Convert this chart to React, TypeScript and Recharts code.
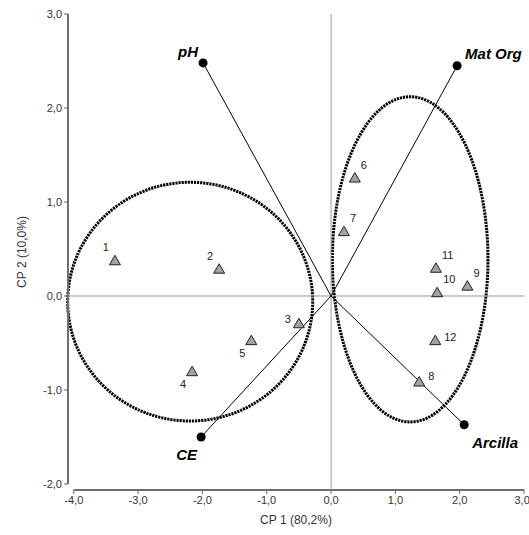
import React from "react";
import {
  ReferenceArea,
  ReferenceLine,
  Scatter,
  ScatterChart,
  XAxis,
  YAxis,
} from "recharts";

// sample scores (CP1, CP2)
const sampleIds = ["1", "2", "3", "4", "5", "6", "7", "8", "9", "10", "11", "12"];
const sampleCp1 = [-3.36, -1.74, -0.5, -2.16, -1.24, 0.37, 0.2, 1.37, 2.12, 1.65, 1.63, 1.62];
const sampleCp2 = [0.38, 0.29, -0.29, -0.8, -0.47, 1.26, 0.69, -0.91, 0.11, 0.04, 0.3, -0.47];

// variable loadings
const variableNames = ["pH", "Mat Org", "CE", "Arcilla"];
const variableCp1 = [-1.99, 1.96, -2.02, 2.07];
const variableCp2 = [2.48, 2.45, -1.5, -1.37];

// group ellipses (center and semi-axes, in CP units)
const groupCenterX = [-2.19, 1.23];
const groupCenterY = [-0.06, 0.39];
const groupRadiusX = [1.905, 1.21];
const groupRadiusY = [1.27, 1.73];

const xTicks = [-4, -3, -2, -1, 0, 1, 2, 3];
const yTicks = [-2, -1, 0, 1, 2, 3];
const xDomain: [number, number] = [-4.09, 3];
const yDomain: [number, number] = [-2.064, 3];

// where each label sits around its mark
const sampleLabelAt: Record<string, string> = {
  "1": "ul", "2": "ul", "3": "l", "4": "dl", "5": "dl", "6": "ur",
  "7": "ur", "8": "r", "9": "ur", "10": "ur", "11": "ur", "12": "r",
};
const variableLabelAt: Record<string, string> = {
  pH: "ul", "Mat Org": "ur", CE: "dl", Arcilla: "dr",
};

const samples = sampleIds.map((id, i) => ({ id, x: sampleCp1[i], y: sampleCp2[i] }));
const variables = variableNames.map((name, i) => ({ id: name, x: variableCp1[i], y: variableCp2[i] }));

const fmt = (v: number) => v.toFixed(1).replace(".", ",");
const font = "'Liberation Sans', Arial, sans-serif";

function SampleMark(props: any) {
  const { cx, cy, payload } = props;
  const at = sampleLabelAt[payload.id];
  let tx = cx + 6, ty = cy - 9, anchor = "start";
  if (at === "ul") { tx = cx - 6; ty = cy - 9; anchor = "end"; }
  if (at === "dl") { tx = cx - 6; ty = cy + 17; anchor = "end"; }
  if (at === "l") { tx = cx - 8; ty = cy; anchor = "end"; }
  if (at === "r") { tx = cx + 9; ty = cy + (payload.id === "8" ? -2 : 1); anchor = "start"; }
  return (
    <g>
      <polygon
        points={`${cx},${cy - 5} ${cx - 5.5},${cy + 4.5} ${cx + 5.5},${cy + 4.5}`}
        fill="#a3a3a3"
        stroke="#222"
        strokeWidth={1}
      />
      <text x={tx} y={ty} textAnchor={anchor} fontSize={11} fill="#222" fontFamily={font}>
        {payload.id}
      </text>
    </g>
  );
}

function VariableMark(props: any) {
  const { cx, cy, payload } = props;
  const at = variableLabelAt[payload.id];
  let tx = cx + 8, ty = cy + 23, anchor = "start";
  if (at === "ul") { tx = cx - 5; ty = cy - 6; anchor = "end"; }
  if (at === "ur") { tx = cx + 8; ty = cy - 7; anchor = "start"; }
  if (at === "dl") { tx = cx - 4; ty = cy + 23; anchor = "end"; }
  return (
    <g>
      <circle cx={cx} cy={cy} r={4.5} fill="#000" />
      <text
        x={tx}
        y={ty}
        textAnchor={anchor}
        fontSize={15}
        fontWeight="bold"
        fontStyle="italic"
        fill="#000"
        fontFamily={font}
      >
        {payload.id}
      </text>
    </g>
  );
}

function EllipseShape(props: any) {
  const { x, y, width, height } = props;
  return (
    <ellipse
      cx={x + width / 2}
      cy={y + height / 2}
      rx={width / 2}
      ry={height / 2}
      fill="none"
      stroke="#000"
      strokeWidth={3}
      strokeDasharray="2.2 0.9"
    />
  );
}

function YTitle(props: any) {
  const { viewBox } = props;
  const x = viewBox.x + 22;
  const y = viewBox.y + viewBox.height / 2;
  return (
    <text x={x} y={y} transform={`rotate(-90 ${x} ${y})`} textAnchor="middle" dominantBaseline="central" fontSize={12} fill="#333" fontFamily={font}>
      CP 2 (10,0%)
    </text>
  );
}

function XTitle(props: any) {
  const { viewBox } = props;
  return (
    <text x={viewBox.x + viewBox.width / 2} y={viewBox.y + 34} textAnchor="middle" fontSize={12} fill="#333" fontFamily={font}>
      CP 1 (80,2%)
    </text>
  );
}

export default function App() {
  return (
    <div style={{ position: "absolute", left: 0, top: 0, width: 529, height: 535, background: "#fff", fontFamily: font }}>
      <ScatterChart width={529} height={535} margin={{ top: 14, right: 5, bottom: 0, left: 0 }}>
        <XAxis
          type="number"
          dataKey="x"
          domain={xDomain}
          ticks={xTicks}
          allowDataOverflow
          tickFormatter={fmt}
          axisLine={false}
          stroke="#666"
          tickSize={4}
          height={45}
          tick={{ fontSize: 11, fill: "#333", fontFamily: font }}
          label={<XTitle />}
        />
        <YAxis
          type="number"
          dataKey="y"
          domain={yDomain}
          ticks={yTicks}
          allowDataOverflow
          tickFormatter={fmt}
          axisLine={false}
          stroke="#666"
          tickSize={4}
          width={68}
          tick={{ fontSize: 11, fill: "#333", fontFamily: font }}
          label={<YTitle />}
        />
        <ReferenceLine
          segment={[{ x: xDomain[0], y: -2 }, { x: xDomain[0], y: 3 }]}
          stroke="#6e6e6e"
          strokeWidth={2}
          ifOverflow="visible"
        />
        <ReferenceLine
          segment={[{ x: -4, y: yDomain[0] }, { x: 3, y: yDomain[0] }]}
          stroke="#6e6e6e"
          strokeWidth={2}
          ifOverflow="visible"
        />
        <ReferenceLine x={0} stroke="#999" strokeWidth={1} ifOverflow="visible" />
        <ReferenceLine y={0} stroke="#999" strokeWidth={1} ifOverflow="visible" />
        {groupCenterX.map((cx, i) => (
          <ReferenceArea
            key={`ell-${i}`}
            x1={cx - groupRadiusX[i]}
            x2={cx + groupRadiusX[i]}
            y1={groupCenterY[i] - groupRadiusY[i]}
            y2={groupCenterY[i] + groupRadiusY[i]}
            ifOverflow="visible"
            shape={<EllipseShape />}
          />
        ))}
        {variables.map((v) => (
          <ReferenceLine
            key={`vec-${v.id}`}
            segment={[{ x: 0, y: 0 }, { x: v.x, y: v.y }]}
            stroke="#000"
            strokeWidth={1}
            ifOverflow="visible"
          />
        ))}
        <Scatter data={samples} shape={<SampleMark />} isAnimationActive={false} />
        <Scatter data={variables} shape={<VariableMark />} isAnimationActive={false} />
      </ScatterChart>
    </div>
  );
}
